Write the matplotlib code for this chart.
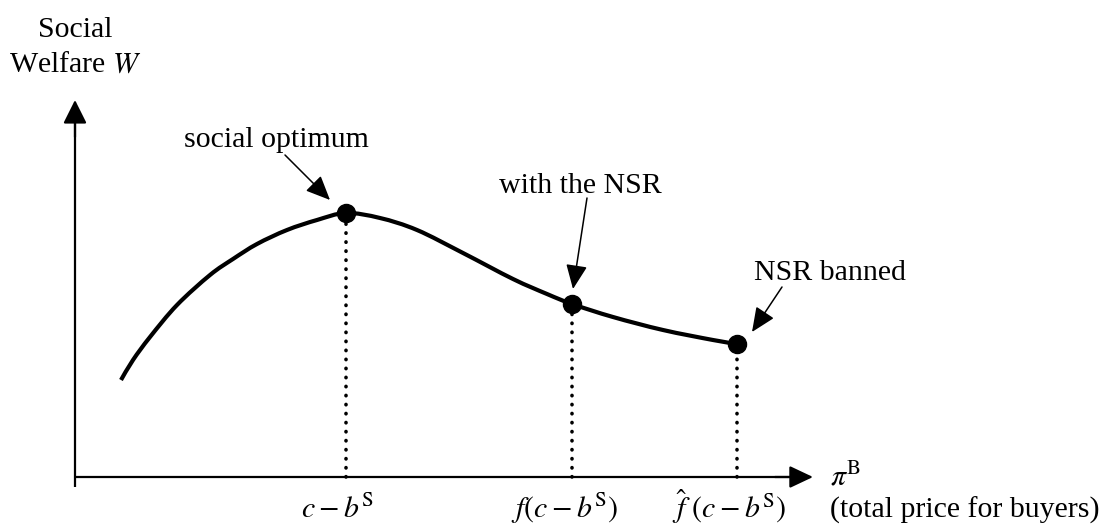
import matplotlib
matplotlib.use("Agg")
import matplotlib.pyplot as plt
from matplotlib.path import Path
from matplotlib.patches import PathPatch

plt.rcParams['font.family'] = ['Liberation Serif', 'DejaVu Serif']
plt.rcParams['mathtext.fontset'] = 'stix'

# Welfare curve W(pi^B) (arbitrary units)
price = [46, 58, 75, 102, 135, 158, 182, 212, 242, 271, 305, 342, 388,
         438, 472, 497, 538, 588, 638, 662]
welfare = [97, 117, 140, 172, 202, 218, 233, 247, 257, 264, 259, 247, 224,
           198, 183, 173, 160, 147, 137, 133]

# Highlighted points
point_price = [271, 497, 662]
point_welfare = [264, 173, 133]
point_ticklabels = [r'$c-b^{\mathrm{S}}$', r'$f(c-b^{\mathrm{S}})$',
                    r'$\hat{f}\ (c-b^{\mathrm{S}})$']
point_notes = ['social optimum', 'with the NSR', 'NSR banned']

FS = 21.5
fig = plt.figure(figsize=(11.04, 5.25), dpi=100)
ax = fig.add_axes([0, 0, 1, 1])
ax.set_xlim(-75, 1029)
ax.set_ylim(-48, 477)
ax.axis('off')

# axes with arrowheads
ax.plot([0, 0], [-10, 360], color='k', lw=1.6, solid_capstyle='butt')
ax.plot([0, 720], [0, 0], color='k', lw=1.6, solid_capstyle='butt')
ax.annotate('', xy=(0, 377), xytext=(0, 340),
            arrowprops=dict(arrowstyle='-|>,head_length=0.72,head_width=0.36',
                            mutation_scale=20, lw=1.6, color='k',
                            shrinkA=0, shrinkB=0))
ax.annotate('', xy=(738, 0), xytext=(700, 0),
            arrowprops=dict(arrowstyle='-|>,head_length=0.72,head_width=0.34',
                            mutation_scale=20, lw=1.6, color='k',
                            shrinkA=0, shrinkB=0))

# smooth curve drawn as Bezier path through the read points (Catmull-Rom)
verts = [(price[0], welfare[0])]
codes = [Path.MOVETO]
n = len(price)
for i in range(n - 1):
    p0 = (price[max(i - 1, 0)], welfare[max(i - 1, 0)])
    p1 = (price[i], welfare[i])
    p2 = (price[i + 1], welfare[i + 1])
    p3 = (price[min(i + 2, n - 1)], welfare[min(i + 2, n - 1)])
    c1 = (p1[0] + (p2[0] - p0[0]) / 6, p1[1] + (p2[1] - p0[1]) / 6)
    c2 = (p2[0] - (p3[0] - p1[0]) / 6, p2[1] - (p3[1] - p1[1]) / 6)
    verts += [c1, c2, p2]
    codes += [Path.CURVE4] * 3
ax.add_patch(PathPatch(Path(verts, codes), facecolor='none', edgecolor='k',
                       lw=3.0, capstyle='butt', joinstyle='round'))

# dotted drop lines and points
for px, pw in zip(point_price, point_welfare):
    ax.plot([px, px], [0, pw], color='k', lw=2.6,
            linestyle=(0, (0.1, 2.4)), dash_capstyle='round')
ax.plot(point_price, point_welfare, 'o', color='k', markersize=13, zorder=5)

# tick labels under the x axis
for px, lab in zip(point_price, point_ticklabels):
    ax.text(px - 8, -41, lab, ha='center', va='baseline', fontsize=FS)

# axis labels
ax.text(0, 440, 'Social', ha='center', va='baseline', fontsize=FS)
ax.text(0, 405, r'Welfare $W$', ha='center', va='baseline', fontsize=FS)
ax.text(755, -8, r'$\pi^{\mathrm{B}}$', ha='left', va='baseline', fontsize=FS)
ax.text(755, -41, '(total price for buyers)', ha='left', va='baseline',
        fontsize=FS)

# annotations with pointer arrows
note_text_pos = [(201, 330), (505, 284), (755, 197)]
note_arrow_from = [(210, 322), (512, 279), (707, 190)]
note_arrow_to = [(255, 277), (498, 188), (677, 145)]
for note, tp, af, at in zip(point_notes, note_text_pos, note_arrow_from,
                            note_arrow_to):
    ax.text(tp[0], tp[1], note, ha='center', va='baseline', fontsize=FS)
    ax.annotate('', xy=at, xytext=af,
                arrowprops=dict(arrowstyle='-|>,head_length=0.75,head_width=0.33',
                                mutation_scale=20, lw=1.1, color='k',
                                shrinkA=0, shrinkB=0))

fig.savefig('out.png', dpi=100)
